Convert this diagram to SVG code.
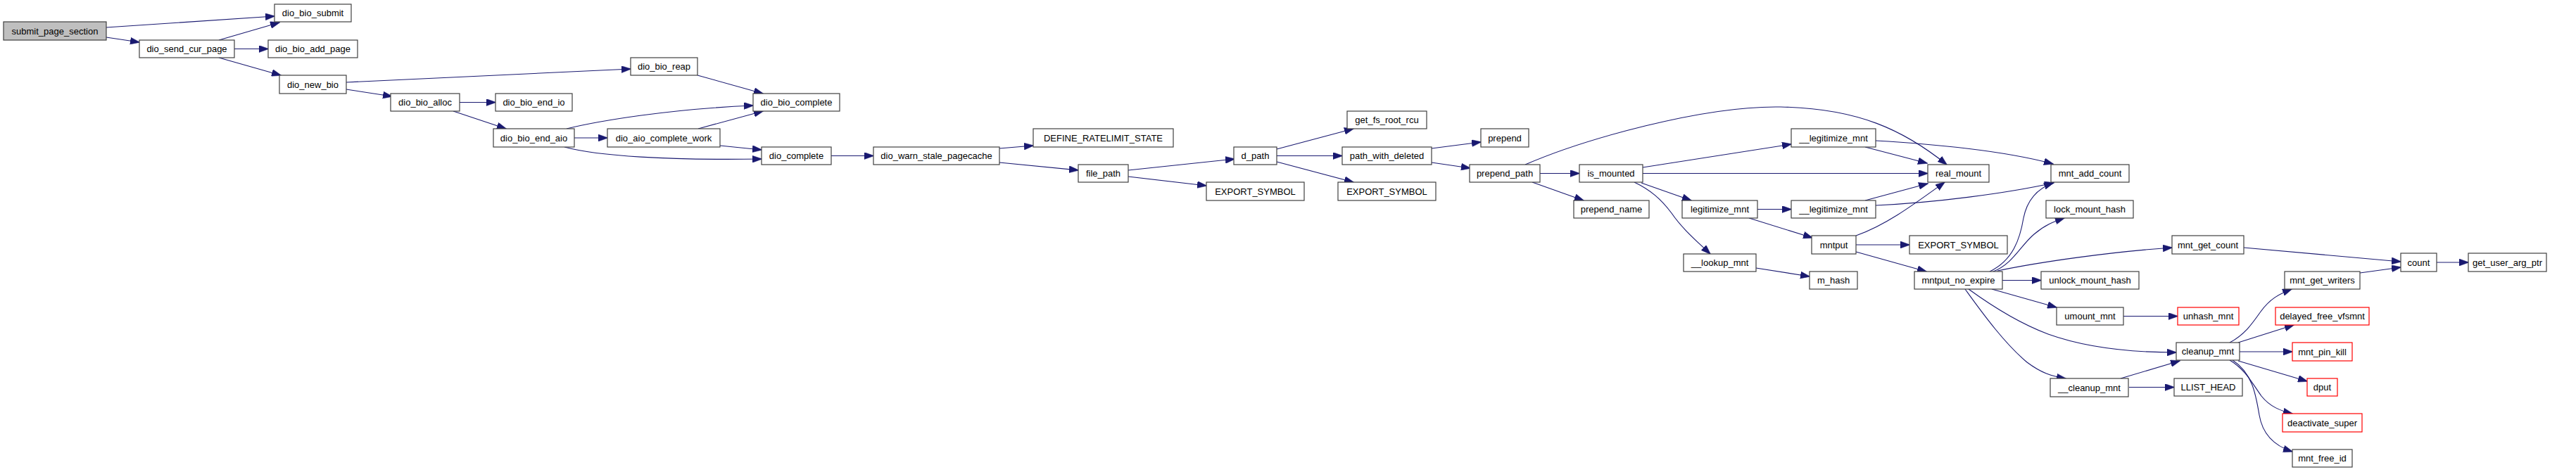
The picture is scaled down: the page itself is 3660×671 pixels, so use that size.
<svg xmlns="http://www.w3.org/2000/svg" width="3660" height="671" viewBox="0 0 3660 671">
<style>
.n{fill:#fff;stroke:#404040;stroke-width:1.2}
.g{fill:#bfbfbf;stroke:#404040;stroke-width:1.2}
.r{fill:#fff;stroke:#ff0000;stroke-width:1.2}
.t{font-family:"Liberation Sans",Arial,sans-serif;font-size:13px;fill:#000;text-anchor:middle}
.e path{fill:none;stroke:#191970;stroke-width:1.1;marker-end:url(#ah)}
</style>
<defs>
<marker id="ah" viewBox="0 0 14 10" markerUnits="userSpaceOnUse" markerWidth="14" markerHeight="10" refX="13" refY="5" orient="auto">
<path d="M0,0 L14,5 L0,10 Z" fill="#191970" stroke="#191970" stroke-width="0.5"/>
</marker>
</defs>
<rect width="3660" height="671" fill="#fff"/>
<g class="e" id="edges">
<path d="M151,39 L390,23"/>
<path d="M151,53 L198,60"/>
<path d="M311,57 L397,32"/>
<path d="M333,69.5 L381,69.5"/>
<path d="M311,82 L399,107"/>
<path d="M492,117 L896,98"/>
<path d="M492,127 L557,137"/>
<path d="M653,145.5 L704,145.5"/>
<path d="M644,158 L719,183"/>
<path d="M991,107 L1084,133"/>
<path d="M805,183 C850,172 950,155 1070,150"/>
<path d="M992,183 L1084,158"/>
<path d="M816,196 L863,196"/>
<path d="M1023,207 L1082,213"/>
<path d="M802,209 C850,222 950,228 1082,226"/>
<path d="M1181,221.5 L1241,221.5"/>
<path d="M1420,211 L1468,207"/>
<path d="M1420,231 L1532,242"/>
<path d="M1603,242 L1754,226"/>
<path d="M1603,251 L1714,264"/>
<path d="M1814,212 L1923,183"/>
<path d="M1814,221.5 L1907,221.5"/>
<path d="M1814,230 L1923,259"/>
<path d="M2034,211 L2104,202"/>
<path d="M2034,231 L2089,239"/>
<path d="M2167,234 C2250,198 2420,150 2530,152 C2640,154 2705,185 2766,234"/>
<path d="M2188,246.5 L2244,246.5"/>
<path d="M2177,259 L2250,285"/>
<path d="M2334,238 L2545,205"/>
<path d="M2334,246.5 L2739,246.5"/>
<path d="M2332,260 L2403,285"/>
<path d="M2322,259 C2345,270 2360,283 2375,303 C2390,325 2410,342 2430,361"/>
<path d="M2650,209 L2738,232"/>
<path d="M2665,200 C2750,205 2850,215 2917,233"/>
<path d="M2497,297.5 L2545,297.5"/>
<path d="M2485,310 L2575,338"/>
<path d="M2650,285 L2739,261"/>
<path d="M2665,292 C2750,288 2850,275 2918,260"/>
<path d="M2637,335 C2680,320 2720,290 2763,259"/>
<path d="M2637,348 L2713,348"/>
<path d="M2637,358 L2737,386"/>
<path d="M2495,381 L2571,393"/>
<path d="M2827,386 C2860,370 2870,340 2875,310 C2880,285 2895,268 2917,260"/>
<path d="M2832,386 C2860,375 2870,350 2890,333 C2905,320 2918,315 2933,310"/>
<path d="M2838,385 C2900,372 3000,358 3086,352"/>
<path d="M2845,398.5 L2900,398.5"/>
<path d="M2830,411 L2922,437"/>
<path d="M2797,411 C2830,435 2870,460 2910,475 C2960,493 3020,501 3092,501"/>
<path d="M2792,411 C2820,450 2850,490 2880,515 C2900,530 2915,535 2935,538"/>
<path d="M3017,449.5 L3094,449.5"/>
<path d="M3013,538 L3097,513"/>
<path d="M3025,550.5 L3089,550.5"/>
<path d="M3188,352 L3411,372"/>
<path d="M3462,373 L3507,373"/>
<path d="M3353,388 L3411,380"/>
<path d="M3168,487 C3190,475 3200,460 3212,443 C3225,425 3238,418 3256,411"/>
<path d="M3180,487 L3259,462"/>
<path d="M3182,500 L3257,500"/>
<path d="M3180,513 L3278,542"/>
<path d="M3168,512 C3190,525 3200,545 3213,563 C3225,578 3240,584 3257,588"/>
<path d="M3172,512 C3200,530 3205,560 3210,590 C3215,620 3235,635 3257,642"/>
</g>
<g id="submit_page_section"><rect class="g" x="5" y="31" width="146" height="26"/><text class="t" x="78" y="48.6">submit_page_section</text></g>
<g id="dio_send_cur_page"><rect class="n" x="198" y="57" width="135" height="25"/><text class="t" x="265.5" y="74">dio_send_cur_page</text></g>
<g id="dio_bio_submit"><rect class="n" x="390" y="6" width="109" height="25"/><text class="t" x="444.5" y="23">dio_bio_submit</text></g>
<g id="dio_bio_add_page"><rect class="n" x="381" y="57" width="127" height="25"/><text class="t" x="444.5" y="74">dio_bio_add_page</text></g>
<g id="dio_new_bio"><rect class="n" x="397" y="107" width="95" height="26"/><text class="t" x="444.5" y="124.6">dio_new_bio</text></g>
<g id="dio_bio_alloc"><rect class="n" x="555" y="133" width="98" height="25"/><text class="t" x="604" y="150">dio_bio_alloc</text></g>
<g id="dio_bio_end_io"><rect class="n" x="704" y="133" width="109" height="25"/><text class="t" x="758.5" y="150">dio_bio_end_io</text></g>
<g id="dio_bio_end_aio"><rect class="n" x="701" y="183" width="115" height="26"/><text class="t" x="758.5" y="200.6">dio_bio_end_aio</text></g>
<g id="dio_bio_reap"><rect class="n" x="896" y="82" width="95" height="25"/><text class="t" x="943.5" y="99">dio_bio_reap</text></g>
<g id="dio_aio_complete_work"><rect class="n" x="863" y="183" width="160" height="26"/><text class="t" x="943" y="200.6">dio_aio_complete_work</text></g>
<g id="dio_bio_complete"><rect class="n" x="1070" y="133" width="123" height="25"/><text class="t" x="1131.5" y="150">dio_bio_complete</text></g>
<g id="dio_complete"><rect class="n" x="1082" y="209" width="99" height="25"/><text class="t" x="1131.5" y="226">dio_complete</text></g>
<g id="dio_warn_stale_pagecache"><rect class="n" x="1241" y="209" width="179" height="25"/><text class="t" x="1330.5" y="226">dio_warn_stale_pagecache</text></g>
<g id="DEFINE_RATELIMIT_STATE"><rect class="n" x="1468" y="183" width="199" height="26"/><text class="t" x="1567.5" y="200.6">DEFINE_RATELIMIT_STATE</text></g>
<g id="file_path"><rect class="n" x="1532" y="234" width="71" height="25"/><text class="t" x="1567.5" y="251">file_path</text></g>
<g id="d_path"><rect class="n" x="1753" y="209" width="61" height="25"/><text class="t" x="1783.5" y="226">d_path</text></g>
<g id="EXPORT_SYMBOL_1"><rect class="n" x="1714" y="259" width="139" height="26"/><text class="t" x="1783.5" y="276.6">EXPORT_SYMBOL</text></g>
<g id="get_fs_root_rcu"><rect class="n" x="1914" y="158" width="113" height="25"/><text class="t" x="1970.5" y="175">get_fs_root_rcu</text></g>
<g id="path_with_deleted"><rect class="n" x="1907" y="209" width="127" height="25"/><text class="t" x="1970.5" y="226">path_with_deleted</text></g>
<g id="EXPORT_SYMBOL_2"><rect class="n" x="1901" y="259" width="139" height="26"/><text class="t" x="1970.5" y="276.6">EXPORT_SYMBOL</text></g>
<g id="prepend"><rect class="n" x="2104" y="183" width="68" height="26"/><text class="t" x="2138" y="200.6">prepend</text></g>
<g id="prepend_path"><rect class="n" x="2088" y="234" width="100" height="25"/><text class="t" x="2138" y="251">prepend_path</text></g>
<g id="is_mounted"><rect class="n" x="2244" y="234" width="90" height="25"/><text class="t" x="2289" y="251">is_mounted</text></g>
<g id="prepend_name"><rect class="n" x="2236" y="285" width="107" height="25"/><text class="t" x="2289.5" y="302">prepend_name</text></g>
<g id="__legitimize_mnt_1"><rect class="n" x="2545" y="183" width="120" height="26"/><text class="t" x="2605" y="200.6">__legitimize_mnt</text></g>
<g id="legitimize_mnt"><rect class="n" x="2390" y="285" width="107" height="25"/><text class="t" x="2443.5" y="302">legitimize_mnt</text></g>
<g id="__legitimize_mnt_2"><rect class="n" x="2545" y="285" width="120" height="25"/><text class="t" x="2605" y="302">__legitimize_mnt</text></g>
<g id="mntput"><rect class="n" x="2574" y="335" width="63" height="26"/><text class="t" x="2605.5" y="352.6">mntput</text></g>
<g id="__lookup_mnt"><rect class="n" x="2392" y="361" width="103" height="25"/><text class="t" x="2443.5" y="378">__lookup_mnt</text></g>
<g id="m_hash"><rect class="n" x="2571" y="386" width="68" height="25"/><text class="t" x="2605" y="403">m_hash</text></g>
<g id="real_mount"><rect class="n" x="2739" y="234" width="87" height="25"/><text class="t" x="2782.5" y="251">real_mount</text></g>
<g id="mnt_add_count"><rect class="n" x="2914" y="234" width="111" height="25"/><text class="t" x="2969.5" y="251">mnt_add_count</text></g>
<g id="lock_mount_hash"><rect class="n" x="2907" y="285" width="124" height="25"/><text class="t" x="2969" y="302">lock_mount_hash</text></g>
<g id="EXPORT_SYMBOL_3"><rect class="n" x="2713" y="335" width="139" height="26"/><text class="t" x="2782.5" y="352.6">EXPORT_SYMBOL</text></g>
<g id="mnt_get_count"><rect class="n" x="3086" y="335" width="102" height="26"/><text class="t" x="3137" y="352.6">mnt_get_count</text></g>
<g id="mntput_no_expire"><rect class="n" x="2720" y="386" width="125" height="25"/><text class="t" x="2782.5" y="403">mntput_no_expire</text></g>
<g id="unlock_mount_hash"><rect class="n" x="2900" y="386" width="139" height="25"/><text class="t" x="2969.5" y="403">unlock_mount_hash</text></g>
<g id="umount_mnt"><rect class="n" x="2922" y="437" width="95" height="25"/><text class="t" x="2969.5" y="454">umount_mnt</text></g>
<g id="__cleanup_mnt"><rect class="n" x="2913" y="538" width="111" height="26"/><text class="t" x="2968.5" y="555.6">__cleanup_mnt</text></g>
<g id="unhash_mnt"><rect class="r" x="3094" y="437" width="87" height="25"/><text class="t" x="3137.5" y="454">unhash_mnt</text></g>
<g id="cleanup_mnt"><rect class="n" x="3092" y="487" width="90" height="25"/><text class="t" x="3137" y="504">cleanup_mnt</text></g>
<g id="LLIST_HEAD"><rect class="n" x="3089" y="538" width="97" height="25"/><text class="t" x="3137.5" y="555">LLIST_HEAD</text></g>
<g id="count"><rect class="n" x="3411" y="360" width="51" height="26"/><text class="t" x="3436.5" y="377.6">count</text></g>
<g id="get_user_arg_ptr"><rect class="n" x="3507" y="360" width="111" height="26"/><text class="t" x="3562.5" y="377.6">get_user_arg_ptr</text></g>
<g id="mnt_get_writers"><rect class="n" x="3246" y="386" width="107" height="25"/><text class="t" x="3299.5" y="403">mnt_get_writers</text></g>
<g id="delayed_free_vfsmnt"><rect class="r" x="3233" y="437" width="133" height="25"/><text class="t" x="3299.5" y="454">delayed_free_vfsmnt</text></g>
<g id="mnt_pin_kill"><rect class="r" x="3257" y="487" width="85" height="26"/><text class="t" x="3299.5" y="504.6">mnt_pin_kill</text></g>
<g id="dput"><rect class="r" x="3278" y="538" width="43" height="25"/><text class="t" x="3299.5" y="555">dput</text></g>
<g id="deactivate_super"><rect class="r" x="3243" y="588" width="113" height="26"/><text class="t" x="3299.5" y="605.6">deactivate_super</text></g>
<g id="mnt_free_id"><rect class="n" x="3257" y="639" width="85" height="25"/><text class="t" x="3299.5" y="656">mnt_free_id</text></g>
</svg>
